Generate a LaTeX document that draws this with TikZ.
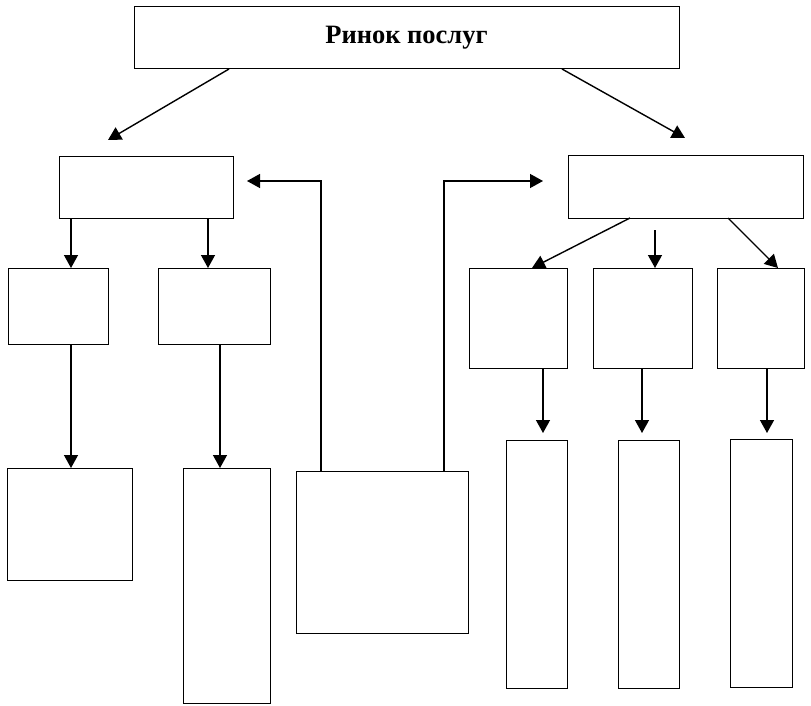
\documentclass[tikz,border=0pt]{standalone}
\usepackage{fontspec}
\setmainfont{Liberation Serif}
\usetikzlibrary{arrows.meta}
\begin{document}
\begin{tikzpicture}[x=1pt,y=-1pt,
  box/.style={draw, line width=1pt, inner sep=0pt, outer sep=0pt, anchor=north west},
  arr/.style={line width=1.4pt, -{Triangle[length=13pt,width=14pt]}}]
\useasboundingbox (0,0) rectangle (811,706);
% boxes
\node[box, minimum width=545pt, minimum height=62pt, font=\bfseries\fontsize{26.5}{30}\selectfont] (top) at (134,7) {Ринок послуг};
\node[box, minimum width=174pt, minimum height=62pt] (lm) at (59,156) {};
\node[box, minimum width=235pt, minimum height=63pt] (rm) at (568,155) {};
\node[box, minimum width=100pt, minimum height=76pt] (a) at (8,268) {};
\node[box, minimum width=112pt, minimum height=76pt] (b) at (158,268) {};
\node[box, minimum width=125pt, minimum height=112pt] (c) at (7,468) {};
\node[box, minimum width=87pt, minimum height=235pt] (d) at (183,468) {};
\node[box, minimum width=172pt, minimum height=162pt] (e) at (296,471) {};
\node[box, minimum width=98pt, minimum height=100pt] (f) at (469,268) {};
\node[box, minimum width=99pt, minimum height=100pt] (g) at (593,268) {};
\node[box, minimum width=87pt, minimum height=100pt] (h) at (717,268) {};
\node[box, minimum width=61pt, minimum height=248pt] (i) at (506,440) {};
\node[box, minimum width=61pt, minimum height=248pt] (j) at (618,440) {};
\node[box, minimum width=62pt, minimum height=248pt] (k) at (730,439) {};
% free ends
\coordinate (tl) at (108,140);
\coordinate (tr) at (685,138);
\coordinate (ltip) at (247,181);
\coordinate (rtip) at (543,181);
\coordinate (mstart) at (655,230);
\coordinate (fi) at (543,433);
\coordinate (gj) at (642,433);
\coordinate (hk) at (767,433);
% connectors
\draw[arr] ([xshift=95pt]top.south west) -- (tl);
\draw[arr] ([xshift=428pt]top.south west) -- (tr);
\draw[arr] ([xshift=12pt]lm.south west) -- ([xshift=63pt]a.north west);
\draw[arr] ([xshift=149pt]lm.south west) -- ([xshift=50pt]b.north west);
\draw[arr] ([xshift=63pt]a.south west) -- ([xshift=64pt]c.north west);
\draw[arr] ([xshift=62pt]b.south west) -- ([xshift=37pt]d.north west);
\draw[arr] ([xshift=25pt]e.north west) |- (ltip);
\draw[arr] ([xshift=148pt]e.north west) |- (rtip);
\draw[arr] ([xshift=62pt]rm.south west) -- ([xshift=63pt]f.north west);
\draw[arr] (mstart) -- ([xshift=62pt]g.north west);
\draw[arr] ([xshift=160pt]rm.south west) -- ([xshift=61pt]h.north west);
\draw[arr] ([xshift=74pt]f.south west) -- (fi);
\draw[arr] ([xshift=49pt]g.south west) -- (gj);
\draw[arr] ([xshift=50pt]h.south west) -- (hk);
\end{tikzpicture}
\end{document}
